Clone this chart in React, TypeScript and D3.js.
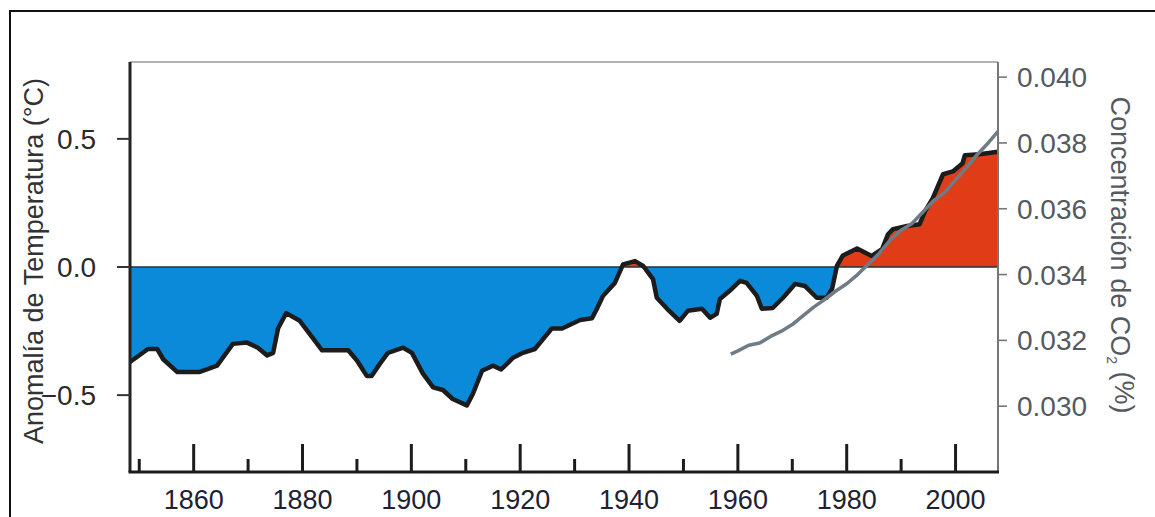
import * as d3 from 'd3'

// temperature anomaly (°C)
const years = [
  1848.3, 1849, 1851.6, 1853.3, 1854.4, 1857, 1861, 1864.3, 1867.2, 1869.8,
  1871.8, 1873.5, 1874.6, 1875.5, 1877, 1879.5, 1883.6, 1888.4, 1890, 1891.8,
  1892.7, 1894.2, 1895.7, 1898.5, 1900.1, 1902.1, 1904, 1905.8, 1907.6, 1910.2,
  1911.3, 1913, 1915, 1916.5, 1918.7, 1920.5, 1922.7, 1925.8, 1927.7, 1931,
  1933.2, 1934.1, 1935.2, 1937.4, 1938.9, 1941.1, 1942.6, 1944.4, 1945.1, 1947,
  1949.3, 1950.8, 1953.4, 1954.9, 1956.1, 1956.7, 1958.5, 1960.4, 1961.6, 1963.5,
  1964.4, 1966.4, 1968.3, 1970.5, 1972.3, 1974.5, 1976.3, 1977.3, 1978.2, 1979.3,
  1981.9, 1984.6, 1986.5, 1987.6, 1988.5, 1991.1, 1993.4, 1994.4, 1995.8, 1997.7,
  1999.5, 2001.3, 2001.7, 2004.4, 2007.8,
]
const anomaly = [
  -0.37, -0.36, -0.32, -0.32, -0.36, -0.41, -0.41, -0.385, -0.3, -0.295,
  -0.315, -0.345, -0.335, -0.24, -0.18, -0.21, -0.325, -0.325, -0.365, -0.425,
  -0.425, -0.378, -0.335, -0.315, -0.335, -0.415, -0.47, -0.48, -0.515, -0.54,
  -0.495, -0.405, -0.385, -0.4, -0.354, -0.335, -0.32, -0.24, -0.24, -0.207,
  -0.2, -0.163, -0.113, -0.062, 0.01, 0.023, 0.004, -0.047, -0.12, -0.163,
  -0.21, -0.171, -0.163, -0.198, -0.183, -0.125, -0.093, -0.054, -0.062, -0.113,
  -0.163, -0.16, -0.12, -0.066, -0.074, -0.12, -0.12, -0.086, 0.004, 0.045,
  0.072, 0.043, 0.07, 0.128, 0.148, 0.16, 0.167, 0.218, 0.268, 0.362,
  0.373, 0.405, 0.436, 0.44, 0.45,
]

// CO2 concentration (%)
const co2Years = [
  1958.7, 1960, 1962, 1964, 1966, 1968, 1970, 1972, 1974, 1976, 1978, 1980, 1982,
  1984, 1986, 1988, 1990, 1992, 1994, 1996, 1998, 2000, 2002, 2004, 2006, 2007.8,
]
const co2 = [
  0.03158, 0.03168, 0.03185, 0.03192, 0.03212, 0.03228, 0.03248, 0.03275, 0.03302,
  0.03325, 0.0335, 0.03372, 0.034, 0.03432, 0.03465, 0.03505, 0.03535, 0.03555,
  0.0359, 0.03625, 0.0365, 0.03688, 0.03725, 0.03765, 0.038, 0.03835,
]

const tempTicks = [-0.5, 0, 0.5]
const co2Ticks = [0.03, 0.032, 0.034, 0.036, 0.038, 0.04]
const majorYears = [1860, 1880, 1900, 1920, 1940, 1960, 1980, 2000]
const minorYears = [1850, 1870, 1890, 1910, 1930, 1950, 1970, 1990]

const W = 1155
const H = 517
const left = 130
const right = 998
const top = 62
const bottom = 472

const font = '"Liberation Sans", Arial, sans-serif'

export default function App() {
  const x = d3.scaleLinear().domain([1848.3, 2007.8]).range([left, right])
  const y = d3.scaleLinear().domain([-0.8, 0.8]).range([bottom, top])
  const yCo2 = d3.scaleLinear().domain([0.028, 0.04046]).range([bottom, top])

  const temp = years.map((yr, i) => ({ yr, v: anomaly[i] }))
  const co2Data = co2Years.map((yr, i) => ({ yr, v: co2[i] }))

  const area = d3.area<{ yr: number; v: number }>()
    .x(d => x(d.yr))
    .y0(y(0))
    .y1(d => y(d.v))
  const line = d3.line<{ yr: number; v: number }>()
    .x(d => x(d.yr))
    .y(d => y(d.v))
  const co2Line = d3.line<{ yr: number; v: number }>()
    .x(d => x(d.yr))
    .y(d => yCo2(d.v))

  const zero = y(0)

  return (
    <svg width={W} height={H} style={{ position: 'absolute', left: 0, top: 0 }} fontFamily={font}>
      <defs>
        <clipPath id="above">
          <rect x={left} y={top} width={right - left} height={zero - top} />
        </clipPath>
        <clipPath id="below">
          <rect x={left} y={zero} width={right - left} height={bottom - zero} />
        </clipPath>
      </defs>

      {/* outer frame */}
      <line x1={9} y1={11} x2={W} y2={11} stroke="#111" strokeWidth={2} />
      <line x1={10} y1={10} x2={10} y2={H} stroke="#111" strokeWidth={2} />

      {/* plot top border */}
      <line x1={left} y1={top} x2={right} y2={top} stroke="#666" strokeWidth={1.2} />

      <path d={area(temp)!} fill="#0a8ad8" clipPath="url(#below)" />
      <path d={area(temp)!} fill="#e03c17" clipPath="url(#above)" />
      <line x1={left} y1={zero} x2={right} y2={zero} stroke="#1d3345" strokeWidth={1.6} />
      <path d={line(temp)!} fill="none" stroke="#1c1c1c" strokeWidth={4.5} strokeLinejoin="round" />
      <path d={co2Line(co2Data)!} fill="none" stroke="#6f7c85" strokeWidth={3.5} strokeLinejoin="round" />

      {/* left axis */}
      <line x1={left} y1={top} x2={left} y2={bottom} stroke="#222" strokeWidth={3} />
      {tempTicks.map(t => (
        <g key={t}>
          <line x1={117} x2={left} y1={y(t)} y2={y(t)} stroke="#333" strokeWidth={2} />
          <text x={96} y={y(t)} dy="0.36em" textAnchor="end" fontSize={28} fill="#2a2a2a">
            {d3.format('.1f')(t)}
          </text>
        </g>
      ))}
      <text
        transform={`translate(33,${261}) rotate(-90)`}
        textAnchor="middle"
        dy="0.36em"
        fontSize={27}
        fill="#333"
      >
        Anomalía de Temperatura (°C)
      </text>

      {/* right axis */}
      <line x1={right} y1={top} x2={right} y2={bottom} stroke="#777" strokeWidth={2} />
      {co2Ticks.map(t => (
        <g key={t}>
          <line x1={right} x2={1007} y1={yCo2(t)} y2={yCo2(t)} stroke="#777" strokeWidth={1.6} />
          <text x={1017} y={yCo2(t)} dy="0.36em" fontSize={28} fill="#555a60">
            {d3.format('.3f')(t)}
          </text>
        </g>
      ))}
      <text
        transform={`translate(1121,${255}) rotate(90)`}
        textAnchor="middle"
        dy="0.36em"
        fontSize={27}
        fill="#555a60"
      >
        Concentración de CO<tspan fontSize={14} dy="0.3em">2</tspan>
        <tspan dy="-0.3em"> (%)</tspan>
      </text>

      {/* bottom axis */}
      <line x1={left - 1.5} y1={bottom} x2={right + 1} y2={bottom} stroke="#1c1c1c" strokeWidth={3} />
      {majorYears.map(yr => (
        <g key={yr}>
          <line x1={x(yr)} x2={x(yr)} y1={bottom} y2={444} stroke="#1c1c1c" strokeWidth={3} />
          <text x={x(yr)} y={509} textAnchor="middle" fontSize={27} fill="#1d2233">
            {yr}
          </text>
        </g>
      ))}
      {minorYears.map(yr => (
        <line key={yr} x1={x(yr)} x2={x(yr)} y1={bottom} y2={459} stroke="#1c1c1c" strokeWidth={3} />
      ))}
    </svg>
  )
}
